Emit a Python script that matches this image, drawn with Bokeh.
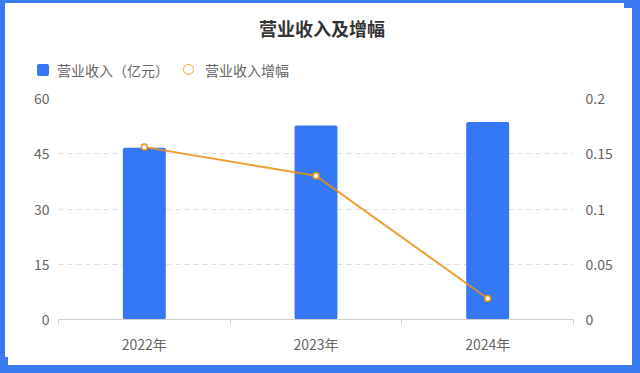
from bokeh.plotting import figure
from bokeh.layouts import column
from bokeh.models import (Range1d, LinearAxis, FixedTicker, Div,
                          ColumnDataSource, CustomJSTickFormatter)
from bokeh.embed import file_html
from bokeh.resources import INLINE

title_text = "营业收入及增幅"
series_names = ["营业收入（亿元）", "营业收入增幅"]
years = ["2022年", "2023年", "2024年"]
revenue = [46.6, 52.7, 53.6]          # 营业收入（亿元）
growth = [0.156, 0.130, 0.019]        # 营业收入增幅
left_ticks = [0, 15, 30, 45, 60]
right_ticks = [0, 0.05, 0.1, 0.15, 0.2]

FONT = "Noto Sans CJK SC"
BLUE = "#3478F6"
FRAME_BLUE = "#3A7BF2"
ORANGE = "#E88E12"

xs = [i + 0.5 for i in range(len(years))]
src = ColumnDataSource(dict(x=xs, year=years, revenue=revenue, growth=growth))

# ---------- header: title + legend ----------
header_html = f"""
<div style="position:relative;width:624px;height:88px;font-family:'{FONT}';">
  <div style="position:absolute;left:259px;top:18px;font-size:18px;line-height:20px;
              font-weight:bold;color:#333333;white-space:nowrap;">{title_text}</div>
  <div style="position:absolute;left:37px;top:64px;width:12px;height:12px;
              border-radius:2px;background:{BLUE};"></div>
  <div style="position:absolute;left:57px;top:61px;font-size:14px;line-height:18px;
              color:#666666;white-space:nowrap;">{series_names[0]}</div>
  <div style="position:absolute;left:183px;top:64px;width:11px;height:11px;box-sizing:border-box;
              border:1.6px solid #EFA52A;border-radius:50%;background:white;"></div>
  <div style="position:absolute;left:205px;top:61px;font-size:14px;line-height:18px;
              color:#666666;white-space:nowrap;">{series_names[1]}</div>
</div>
"""
header = Div(text=header_html, width=624, height=88, margin=0)

# ---------- main chart ----------
p = figure(width=624, height=269, output_backend="svg", toolbar_location=None,
           x_range=Range1d(0, len(years)), y_range=Range1d(0, 60),
           min_border_left=58, min_border_right=51, min_border_top=10, min_border_bottom=38)
p.background_fill_color = "white"
p.border_fill_alpha = 0
p.outline_line_color = None

p.extra_y_ranges = {"pct": Range1d(0, 0.2)}

p.xaxis.ticker = FixedTicker(ticks=xs, minor_ticks=list(range(len(years) + 1)))
p.xaxis.major_label_overrides = {x: y for x, y in zip(xs, years)}
p.xaxis.axis_line_color = "#D0D0D0"
p.xaxis.major_tick_line_color = None
p.xaxis.major_tick_out = 0
p.xaxis.major_tick_in = 0
p.xaxis.minor_tick_line_color = "#D0D0D0"
p.xaxis.minor_tick_out = 5
p.xaxis.minor_tick_in = 0
p.xaxis.major_label_standoff = 9
p.xaxis.major_label_text_font = FONT
p.xaxis.major_label_text_font_size = "14px"
p.xaxis.major_label_text_color = "#666666"

p.yaxis.ticker = FixedTicker(ticks=left_ticks)
p.yaxis.axis_line_color = None
p.yaxis.major_tick_line_color = None
p.yaxis.major_tick_out = 0
p.yaxis.major_tick_in = 0
p.yaxis.minor_tick_line_color = None
p.yaxis.major_label_standoff = 9
p.yaxis.major_label_text_font = FONT
p.yaxis.major_label_text_font_size = "14px"
p.yaxis.major_label_text_color = "#666666"

ry = LinearAxis(y_range_name="pct", ticker=FixedTicker(ticks=right_ticks),
                formatter=CustomJSTickFormatter(code="return String(Math.round(tick*100)/100);"))
ry.axis_line_color = None
ry.major_tick_line_color = None
ry.major_tick_out = 0
ry.major_tick_in = 0
ry.minor_tick_line_color = None
ry.major_label_standoff = 12
ry.major_label_text_font = FONT
ry.major_label_text_font_size = "14px"
ry.major_label_text_color = "#666666"
p.add_layout(ry, "right")

p.xgrid.grid_line_color = None
p.ygrid.grid_line_color = "#DDDDDD"
p.ygrid.grid_line_dash = "5 4"
p.ygrid.ticker = FixedTicker(ticks=left_ticks[1:])

p.vbar(x="x", top="revenue", width=0.25, source=src, fill_color=BLUE, line_color=None,
       border_radius=2)
p.line(x="x", y="growth", source=src, y_range_name="pct",
       line_color=ORANGE, line_width=2, line_alpha=0.85)
p.scatter(x="x", y="growth", source=src, y_range_name="pct", size=6,
          fill_color="white", line_color=ORANGE, line_width=1.5)

layout = column(header, p, spacing=0)
layout.styles = {
    "background-color": "white",
    "box-shadow": (f"inset 5px 3px 0 0 {FRAME_BLUE}, 8px 8px 0 0 white, "
                   f"0 0 0 16px {FRAME_BLUE}"),
}

open("out.html", "w").write(file_html(layout, INLINE))
